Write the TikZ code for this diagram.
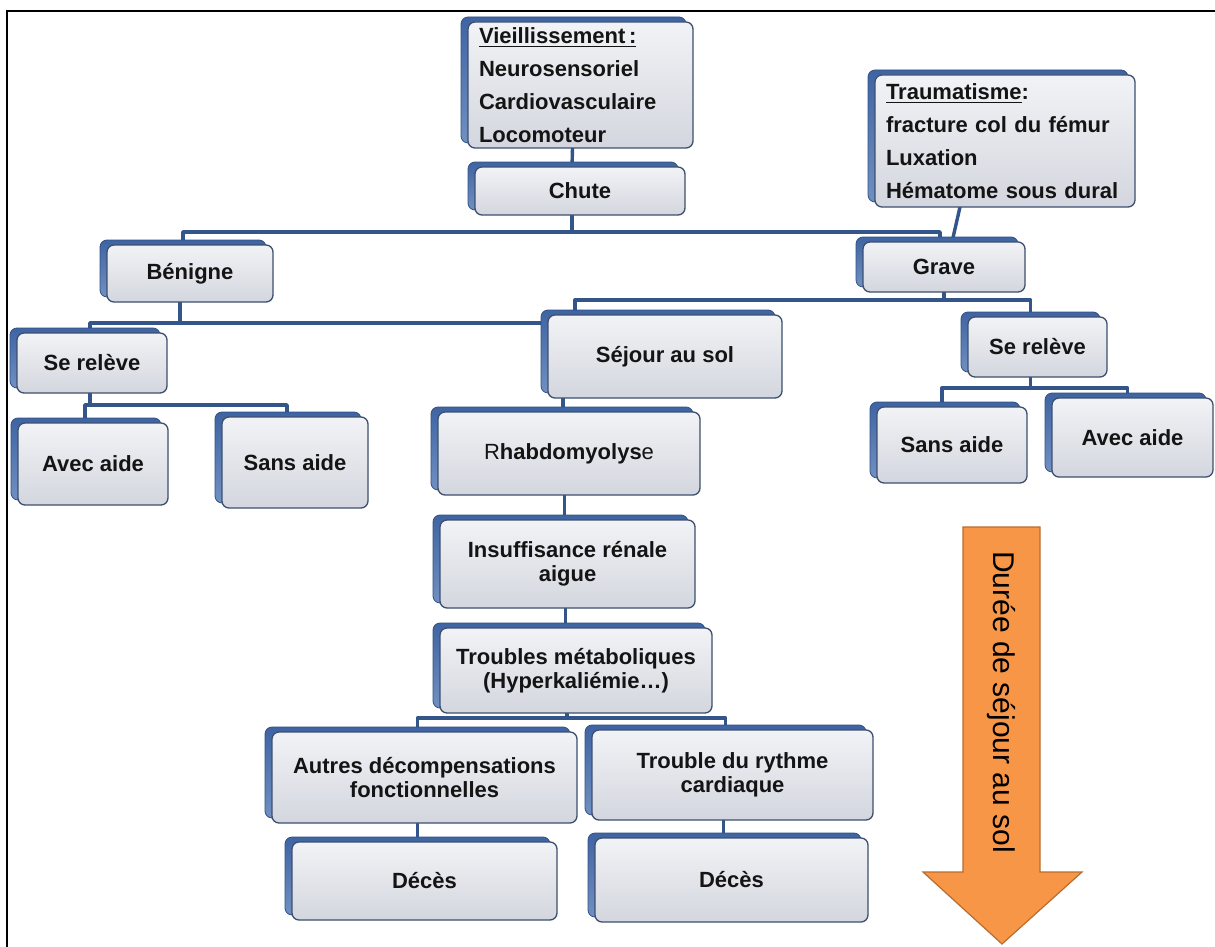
\documentclass[tikz,border=0pt]{standalone}
\usepackage{fontspec}
\setmainfont{Liberation Sans}
\usetikzlibrary{calc,backgrounds}
\definecolor{frontA}{HTML}{F2F3F6}
\definecolor{frontB}{HTML}{D3D6DE}
\definecolor{edge}{HTML}{3D4F6E}
\definecolor{shadA}{HTML}{3F64A3}
\definecolor{shadB}{HTML}{7090C2}
\definecolor{conn}{HTML}{34558A}
\definecolor{orangeF}{HTML}{F79646}
\definecolor{orangeD}{HTML}{B86D2E}
\definecolor{txt}{HTML}{141414}
\newcommand\myul[1]{{\setbox0\hbox{#1}\rlap{\rule[-4pt]{\wd0}{1.8pt}}\box0}}
\tikzset{
  box/.style={rectangle, rounded corners=7pt, draw=edge, line width=1.3pt,
    top color=frontA, bottom color=frontB, inner sep=2pt, outer sep=0pt,
    font=\fontsize{22}{24}\selectfont\bfseries, text=txt, align=center},
  listbox/.style={box, align=left, font=\fontsize{22}{33}\selectfont\bfseries},
  shad/.style={rounded corners=7pt, top color=shadA, bottom color=shadB,
    draw=shadA!80!black, line width=0.8pt},
  link/.style={draw=conn, line width=3.4pt, line cap=round, line join=round},
}
\begin{document}
\begin{tikzpicture}[x=1pt,y=-1pt]
\useasboundingbox (0,0) rectangle (1215,947);

% nodes
\node[listbox, minimum width=225pt, minimum height=126pt, text width=203pt] (v) at (580.5,85)
  {\myul{Vieillissement\,:}\\Neurosensoriel\\Cardiovasculaire\\Locomoteur};
\node[box, minimum width=210pt, minimum height=48pt] (ch) at (580,191) {Chute};
\node[listbox, minimum width=260pt, minimum height=132pt, text width=238pt] (tr) at (1005,141)
  {\myul{Traumatisme}:\\fracture col du fémur\\Luxation\\Hématome sous dural};
\node[box, minimum width=166pt, minimum height=57pt] (ben) at (190,273.5) {Bénigne};
\node[box, minimum width=162pt, minimum height=50pt] (grave) at (944,267) {Grave};
\node[box, minimum width=150pt, minimum height=60pt] (sr1) at (92,363) {Se relève};
\node[box, minimum width=234pt, minimum height=83pt] (sej) at (665,356.5) {Séjour au sol};
\node[box, minimum width=139pt, minimum height=60pt] (sr2) at (1037.5,347) {Se relève};
\node[box, minimum width=150pt, minimum height=82pt] (avec1) at (93,464) {Avec aide};
\node[box, minimum width=146pt, minimum height=91pt] (sans1) at (295,462.5) {Sans aide};
\node[box, minimum width=150pt, minimum height=76pt] (sans2) at (952,445) {Sans aide};
\node[box, minimum width=161pt, minimum height=79pt] (avec2) at (1132.5,437.5) {Avec aide};
\node[box, minimum width=262pt, minimum height=83pt] (rhab) at (569,453.5) {{\mdseries R}habdomyolys{\mdseries e}};
\node[box, minimum width=255pt, minimum height=88pt] (ins) at (567.5,564) {Insuffisance rénale\\aigue};
\node[box, minimum width=272pt, minimum height=85pt] (tm) at (576,670.5) {Troubles métaboliques\\(Hyperkaliémie\dots)};
\node[box, minimum width=305pt, minimum height=91pt] (aut) at (424.5,777.5) {Autres décompensations\\fonctionnelles};
\node[box, minimum width=281pt, minimum height=90pt] (ry) at (732.5,775) {Trouble du rythme\\cardiaque};
\node[box, minimum width=265pt, minimum height=78pt] (d1) at (424.5,881) {Décès};
\node[box, minimum width=273pt, minimum height=84pt] (d2) at (731.5,880) {Décès};

% orange arrow
\filldraw[fill=orangeF, draw=orangeD, line width=1.2pt, line join=miter]
  (963,527) -- (1040,527) -- (1040,872) -- (1082,872) -- (1002,944) -- (923,872) -- (963,872) -- cycle;
\node[rotate=-90, font=\fontsize{30}{30}\selectfont, text=black] (dur) at (1001,702) {Durée de séjour au sol};

\begin{scope}[on background layer]
  \fill[white] (0,0) rectangle (1215,947);
  \draw[line width=2pt, black] (7,947) -- (7,11) -- (1215,11);
  \draw[link] ($(v.south)+(-8,0)$) -- ($(ch.north)+(-8,0)$);
  \draw[link] ($(ch.south)+(-8,0)$) -- ++(0,17) coordinate (busA);
  \draw[link] ($(ben.north)+(-7,0)$) |- (busA) -| ($(grave.north)+(-4,0)$);
  \draw[link] ($(tr.south)+(-45,0)$) -- ($(grave.north)+(8,0)$);
  \draw[link] ($(ben.south)+(-10,0)$) -- ++(0,21) coordinate (busB);
  \draw[link] ($(sr1.north)+(-2,0)$) |- (busB) -- (busB -| sej.west);
  \draw[link] (grave.south) -- ++(0,8) coordinate (busC);
  \draw[link] ($(sej.north)+(-90,0)$) |- (busC) -| ($(sr2.north)+(-7,0)$);
  \draw[link] ($(sr1.south)+(-2,0)$) -- ++(0,12) coordinate (busD);
  \draw[link] ($(avec1.north)+(-8,0)$) |- (busD) -| ($(sans1.north)+(-8,0)$);
  \draw[link] ($(sr2.south)+(-7,0)$) -- ++(0,11) coordinate (busE);
  \draw[link] ($(sans2.north)+(-10,0)$) |- (busE) -| ($(avec2.north)+(-5,0)$);
  \draw[link] ($(rhab.north)+(-6,0)$) coordinate (c0) -- (c0 |- sej.south);
  \draw[link] ($(ins.north)+(-3,0)$) coordinate (c1) -- (c1 |- rhab.south);
  \draw[link] ($(ins.south)+(-2,0)$) coordinate (c2) -- (c2 |- tm.north);
  \draw[link] ($(tm.south)+(-9,0)$) -- ++(0,5) coordinate (busF);
  \draw[link] ($(aut.north)+(-7,0)$) |- (busF) -| ($(ry.north)+(-7,0)$);
  \draw[link] ($(d1.north)+(-7,0)$) coordinate (c3) -- (c3 |- aut.south);
  \draw[link] ($(d2.north)+(-8,0)$) coordinate (c4) -- (c4 |- ry.south);
  \foreach \n in {v,ch,tr,ben,grave,sr1,sej,sr2,avec1,sans1,sans2,avec2,rhab,ins,tm,aut,ry,d1,d2}
    \path[shad] ($(\n.south west)+(-7,-5)$) rectangle ($(\n.north east)+(-7,-5)$);
\end{scope}
\end{tikzpicture}
\end{document}
